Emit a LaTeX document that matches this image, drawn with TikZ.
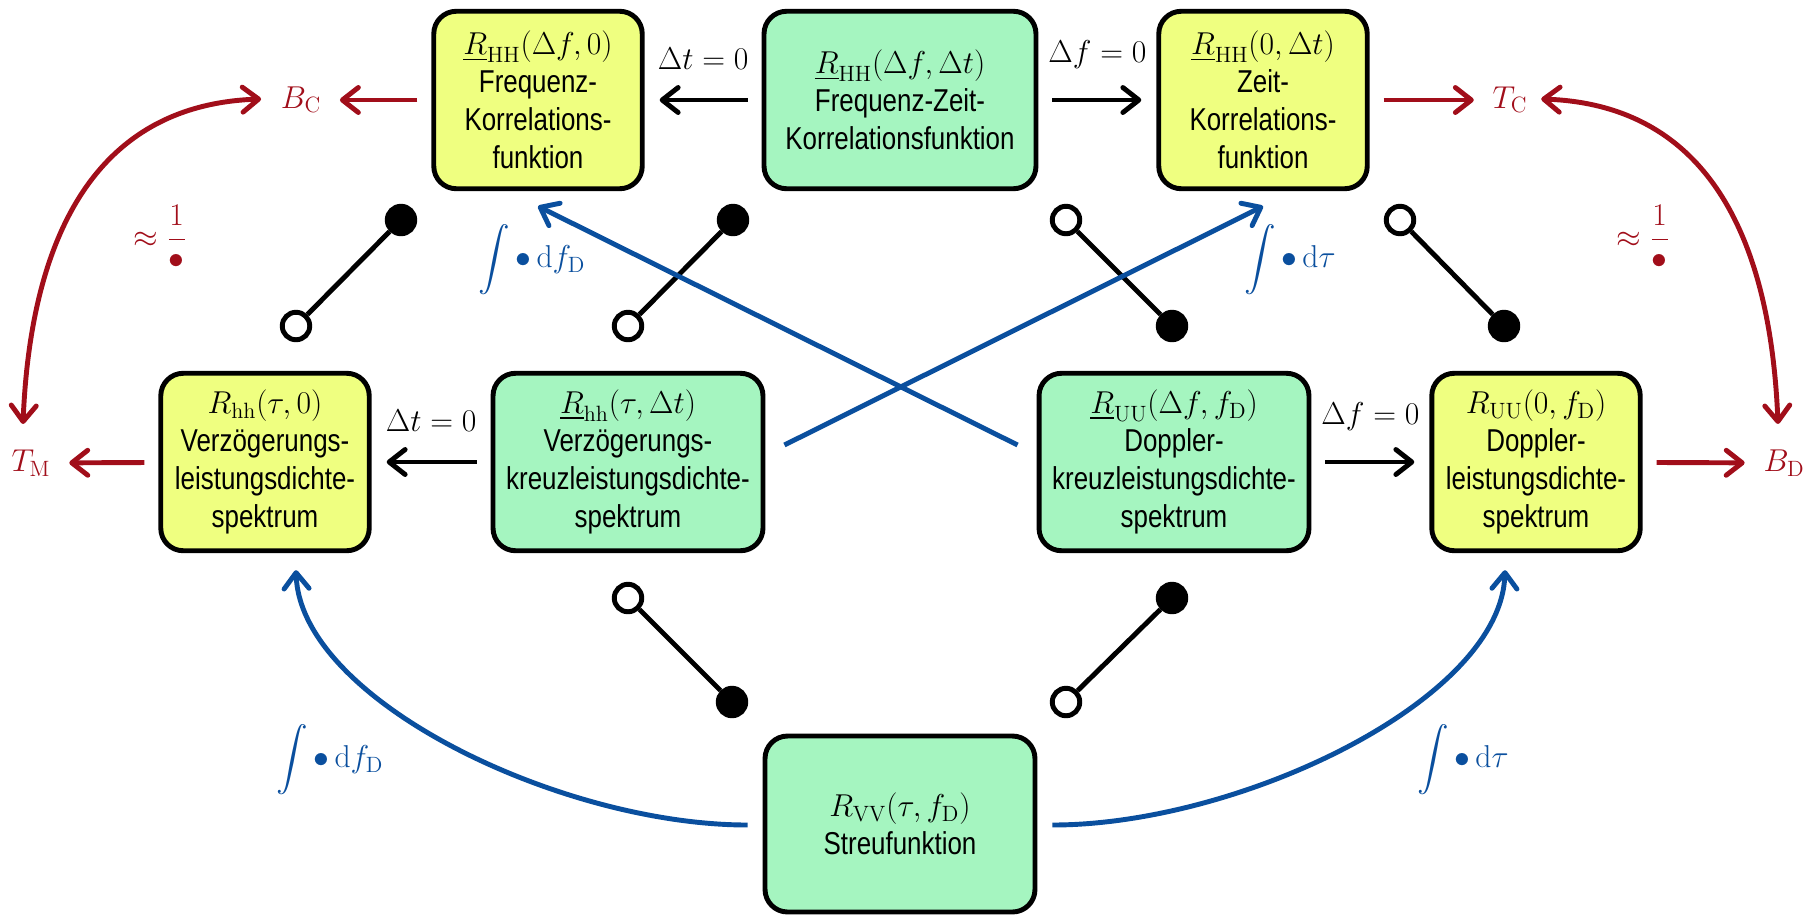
\documentclass[tikz,border=0pt]{standalone}
\usepackage{fix-cm}
\usepackage{amsmath,amssymb}
\usepackage{fontspec}
\usepackage{xcolor}
\usepackage{tikz}
\usetikzlibrary{positioning,arrows.meta,calc}
\newfontfamily\narrowsans{Liberation Sans}[FakeStretch=0.82]
\definecolor{KANyellow}{HTML}{EFFF80}
\definecolor{KANgreen}{HTML}{A5F5C0}
\definecolor{KANred}{HTML}{A10E1A}
\definecolor{KANblue}{HTML}{0A4F9E}
\newcommand{\cardfont}{\narrowsans\fontsize{18pt}{21.6pt}\selectfont}
\newcommand{\labfont}{\fontsize{18pt}{21.6pt}\selectfont}
\tikzset{
  card/.style={rounded corners=0.45cm, draw=black, line width=2.8pt, align=center, inner sep=0pt, minimum height=3.55cm, font=\cardfont},
  yellowcard/.style={card, fill=KANyellow, minimum width=4.17cm},
  greencard/.style={card, fill=KANgreen, minimum width=5.4cm},
  tag/.style={inner sep=2pt, font=\labfont},
  setarr/.style={->, line width=2.8pt, draw=black},
  widtharr/.style={setarr, draw=KANred},
  sumarr/.style={setarr, draw=KANblue},
  gap/.style={shorten <=0.28cm, shorten >=0.3cm},
  opendot/.style={circle, draw=black, line width=2.8pt, fill=white, minimum size=0.55cm, inner sep=0pt},
  fulldot/.style={opendot, fill=black},
  pairline/.style={line width=2.8pt}
}

\begin{document}
\begin{tikzpicture}[x=0.02cm, y=-0.02cm, >={Straight Barb[round,length=0.32cm,width=0.5cm]}]
\useasboundingbox (0,0) rectangle (1814,917);

% Korrelationsfunktionen und Spektren
\node[greencard, minimum width=5.44cm] (fz) at (900,100) {$\underline{R}_{\mathrm{HH}}(\Delta f,\Delta t)$\\Frequenz-Zeit-\\Korrelationsfunktion};
\node[yellowcard] (fk) at (538,100) {$\underline{R}_{\mathrm{HH}}(\Delta f,0)$\\Frequenz-\\Korrelations-\\funktion};
\node[yellowcard] (zk) at (1263,100) {$\underline{R}_{\mathrm{HH}}(0,\Delta t)$\\Zeit-\\Korrelations-\\funktion};
\node[yellowcard] (vl) at (265,462) {$R_{\mathrm{hh}}(\tau,0)$\\Verzögerungs-\\leistungsdichte-\\spektrum};
\node[greencard] (vkl) at (628,462) {$\underline{R}_{\mathrm{hh}}(\tau,\Delta t)$\\Verzögerungs-\\kreuzleistungsdichte-\\spektrum};
\node[greencard] (dkl) at (1174,462) {$\underline{R}_{\mathrm{UU}}(\Delta f,f_{\mathrm{D}})$\\Doppler-\\kreuzleistungsdichte-\\spektrum};
\node[yellowcard] (dl) at (1536,462) {$R_{\mathrm{UU}}(0,f_{\mathrm{D}})$\\Doppler-\\leistungsdichte-\\spektrum};
\node[greencard, minimum height=3.52cm] (sf) at (900,824) {$R_{\mathrm{VV}}(\tau,f_{\mathrm{D}})$\\Streufunktion};

% Kenngroessen
\node[tag, text=KANred] (bc) at (301,100) {$B_{\mathrm{C}}$};
\node[tag, text=KANred] (tc) at (1510,100) {$T_{\mathrm{C}}$};
\node[tag, text=KANred] (tm) at (31,463) {$T_{\mathrm{M}}$};
\node[tag, text=KANred] (bd) at (1784,463) {$B_{\mathrm{D}}$};
\node[tag, text=KANred] (kl) at (160,237) {$\approx\dfrac{1}{\bullet}$};
\node[tag, text=KANred] (kr) at (1643,237) {$\approx\dfrac{1}{\bullet}$};

% Nullsetzen
\draw[setarr, gap] (fz) -- node[tag, above=0.5cm] {$\Delta t = 0$} (fk);
\draw[setarr, gap] (fz) -- node[tag, above=0.5cm] {$\Delta f = 0$} (zk);
\draw[setarr, gap] (vkl) -- node[tag, above=0.5cm] {$\Delta t = 0$} (vl);
\draw[setarr, gap] (dkl) -- node[tag, above=0.5cm] {$\Delta f = 0$} (dl);

\draw[widtharr, gap] (fk) -- (bc);
\draw[widtharr, gap] (zk) -- (tc);
\draw[widtharr, gap] (vl) -- (tm);
\draw[widtharr, gap] (dl) -- (bd);
\draw[widtharr, <->] ($(tm.north)+(-8,-22)$) .. controls +(7,-172) and +(-175,6) .. ($(bc.west)+(-16,-1)$);
\draw[widtharr, <->] ($(tc.east)+(10,-1)$) .. controls +(175,6) and +(-7,-172) .. ($(bd.north)+(-6,-22)$);

% Fourier-Paare
\foreach \i/\ox/\oy/\fx/\fy in {1/296/326/401/220, 2/628/326/733/220, 3/1066/220/1172/326,
    4/1400/220/1504/326, 5/628/598/732/702, 6/1066/702/1172/598} {
  \node[opendot] (o\i) at (\ox,\oy) {};
  \node[fulldot] (f\i) at (\fx,\fy) {};
  \draw[pairline] (o\i) -- (f\i);
}

% Integration
\draw[sumarr] ($(dkl.west)+(-19,-17)$) -- ($(fk.south)+(0,15)$);
\draw[sumarr] ($(vkl.east)+(19,-17)$) -- ($(zk.south)+(0,15)$);
\draw[sumarr] ($(sf.west)+(-15,1)$) .. controls +(-187,0) and +(4,130) .. ($(vl.south)+(31,17)$);
\draw[sumarr] ($(sf.east)+(15,1)$) .. controls +(187,0) and +(-4,130) .. ($(dl.south)+(-31,17)$);
\node[tag, text=KANblue] (ia) at (532,260) {$\displaystyle\int\bullet\,\mathrm{d}f_{\mathrm{D}}$};
\node[tag, text=KANblue] (ib) at (1290,260) {$\displaystyle\int\bullet\,\mathrm{d}\tau$};
\node[tag, text=KANblue] (ic) at (330,760) {$\displaystyle\int\bullet\,\mathrm{d}f_{\mathrm{D}}$};
\node[tag, text=KANblue] (id) at (1463,760) {$\displaystyle\int\bullet\,\mathrm{d}\tau$};
\end{tikzpicture}
\end{document}
